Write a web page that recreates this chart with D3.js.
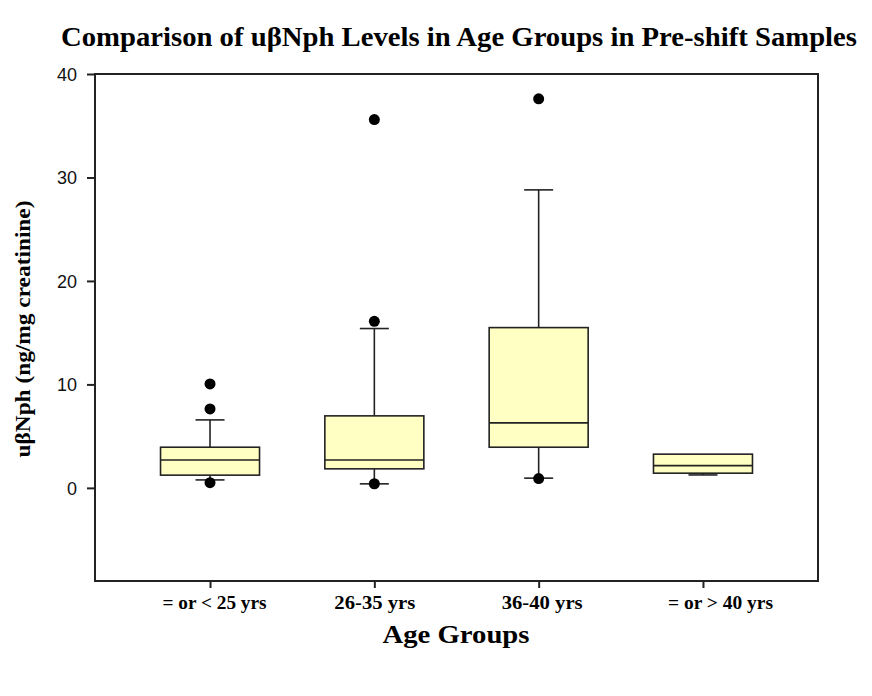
<!DOCTYPE html>
<html><head><meta charset="utf-8">
<script src="https://cdn.jsdelivr.net/npm/d3@7"></script>
<style>body{margin:0;background:#fff}</style>
</head><body>
<svg id="c" width="872" height="696"></svg>
<script>
const categories = ["= or < 25 yrs", "26-35 yrs", "36-40 yrs", "= or > 40 yrs"];
const q1Values = [1.23, 1.84, 3.93, 1.42];
const medianValues = [2.7, 2.7, 6.28, 2.15];
const q3Values = [3.93, 6.96, 15.49, 3.26];
const lowerWhisker = [0.77, 0.39, 0.94, 1.25];
const upperWhisker = [6.57, 15.4, 28.8, 3.26];
const outliers = [[10.05, 7.63, 0.5], [35.6, 16.1, 0.4], [37.6, 0.9], []];
const yTicks = [0, 10, 20, 30, 40];

const svg = d3.select("#c");
const L = 95, R = 818, T = 74, B = 581;
const x = d3.scalePoint().domain(categories).range([L, R]).padding(0.7);
const y = d3.scaleLinear().domain([-9, 40]).range([B, T]);
const boxW = 99, capW = 29;
const stroke = "#222";

svg.append("text").attr("x", 459).attr("y", 46).attr("text-anchor", "middle")
  .attr("font-family", "Liberation Serif").attr("font-weight", "bold").attr("font-size", 27)
  .attr("textLength", 796).attr("lengthAdjust", "spacingAndGlyphs")
  .text("Comparison of uβNph Levels in Age Groups in Pre-shift Samples");

const data = categories.map((c, i) => ({c, q1: q1Values[i], med: medianValues[i], q3: q3Values[i],
  lo: lowerWhisker[i], hi: upperWhisker[i], out: outliers[i]}));

const g = svg.append("g");
data.forEach(d => {
  const cx = x(d.c);
  if (d.hi > d.q3) {
    g.append("line").attr("x1", cx).attr("x2", cx).attr("y1", y(d.q3)).attr("y2", y(d.hi)).attr("stroke", stroke).attr("stroke-width", 1.6);
    g.append("line").attr("x1", cx - capW/2).attr("x2", cx + capW/2).attr("y1", y(d.hi)).attr("y2", y(d.hi)).attr("stroke", stroke).attr("stroke-width", 1.6);
  }
  if (d.lo < d.q1) {
    g.append("line").attr("x1", cx).attr("x2", cx).attr("y1", y(d.q1)).attr("y2", y(d.lo)).attr("stroke", stroke).attr("stroke-width", 1.6);
    g.append("line").attr("x1", cx - capW/2).attr("x2", cx + capW/2).attr("y1", y(d.lo)).attr("y2", y(d.lo)).attr("stroke", stroke).attr("stroke-width", 1.6);
  }
  g.append("rect").attr("x", cx - boxW/2).attr("y", y(d.q3)).attr("width", boxW).attr("height", y(d.q1) - y(d.q3))
    .attr("fill", "#ffffc4").attr("stroke", stroke).attr("stroke-width", 1.6);
  g.append("line").attr("x1", cx - boxW/2).attr("x2", cx + boxW/2).attr("y1", y(d.med)).attr("y2", y(d.med)).attr("stroke", stroke).attr("stroke-width", 1.6);
  d.out.forEach(v => g.append("circle").attr("cx", cx).attr("cy", y(v)).attr("r", 5.5).attr("fill", "#000"));
});

svg.append("rect").attr("x", L).attr("y", T).attr("width", R - L).attr("height", B - T)
  .attr("fill", "none").attr("stroke", stroke).attr("stroke-width", 2);

const ya = svg.append("g").attr("transform", `translate(${L},0)`)
  .call(d3.axisLeft(y).tickValues(yTicks).tickSize(8).tickPadding(10));
ya.select(".domain").remove();
ya.selectAll("line").attr("stroke", stroke).attr("stroke-width", 2);
ya.selectAll("text").attr("font-family", "Liberation Sans").attr("font-size", 18).attr("fill", "#111").attr("dy", "0.36em");

const labelWidths = [104, 81, 81, 105];
const labelShift = [4, 0, 3, 17];
const xa = svg.append("g").attr("transform", `translate(0,${B})`)
  .call(d3.axisBottom(x).tickSize(7).tickPadding(8));
xa.select(".domain").remove();
xa.selectAll("line").attr("stroke", stroke).attr("stroke-width", 2);
xa.selectAll("text").attr("font-family", "Liberation Serif").attr("font-weight", "bold").attr("font-size", 19).attr("fill", "#000")
  .attr("dx", (d, i) => labelShift[i])
  .attr("textLength", (d, i) => labelWidths[i]).attr("lengthAdjust", "spacingAndGlyphs");

svg.append("text").attr("x", 456).attr("y", 643).attr("text-anchor", "middle")
  .attr("font-family", "Liberation Serif").attr("font-weight", "bold").attr("font-size", 25)
  .attr("textLength", 147).attr("lengthAdjust", "spacingAndGlyphs").text("Age Groups");

svg.append("text").attr("transform", "translate(30,329) rotate(-90)").attr("text-anchor", "middle")
  .attr("font-family", "Liberation Serif").attr("font-weight", "bold").attr("font-size", 20)
  .attr("textLength", 257).attr("lengthAdjust", "spacingAndGlyphs")
  .text("uβNph (ng/mg creatinine)");
</script>
</body></html>
